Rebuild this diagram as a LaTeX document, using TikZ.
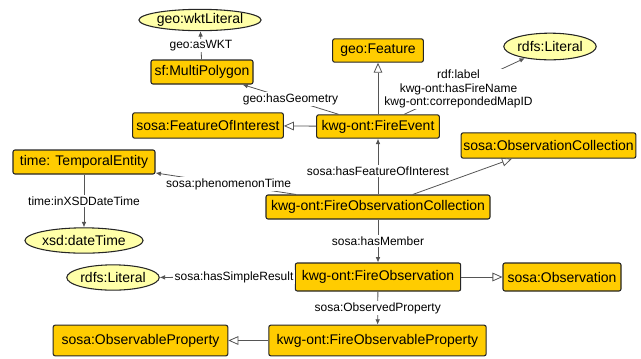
\documentclass[tikz,border=0pt]{standalone}
\usepackage{fontspec}
\setmainfont{Liberation Sans}
\usetikzlibrary{arrows.meta,shapes.geometric}
\definecolor{boxfill}{HTML}{FFCC00}
\definecolor{litfill}{HTML}{FFFFA8}
\definecolor{edgecol}{HTML}{555555}
\tikzset{
  cls/.style={draw=black!85, line width=0.8pt, fill=boxfill, rounded corners=1.5pt,
    inner xsep=1pt, inner ysep=1pt, font=\fontsize{10.5}{12}\selectfont},
  lit/.style={ellipse, draw=black!85, line width=0.8pt, fill=litfill, inner sep=0pt,
    font=\fontsize{10.5}{12}\selectfont},
  rel/.style={draw=edgecol, line width=0.6pt, -{Latex[length=4pt,width=3.5pt]}},
  isa/.style={draw=edgecol, line width=0.6pt, -{Triangle[open,length=7.5pt,width=6.5pt,fill=white]}},
  lab/.style={fill=white, inner sep=1pt, text=black, font=\fontsize{9}{10.5}\selectfont},
}
\begin{document}
\begin{tikzpicture}[x=0.75pt,y=-0.75pt]
\useasboundingbox (0,0) rectangle (641,358);
% nodes
\node[lit, minimum width=77pt, minimum height=16pt] (wkt) at (200,20) {geo:wktLiteral};
\node[cls, minimum width=76.5pt, minimum height=18pt] (mp) at (202,72) {sf:MultiPolygon};
\node[cls, minimum width=113pt, minimum height=19pt] (foi) at (208,125.5) {sosa:FeatureOfInterest};
\node[cls, minimum width=106.5pt, minimum height=18pt] (te) at (84,162) {time: TemporalEntity};
\node[cls, minimum width=68pt, minimum height=17.5pt] (gf) at (378,50.5) {geo:Feature};
\node[lit, minimum width=55pt, minimum height=20pt] (lit1) at (550,46.5) {rdfs:Literal};
\node[cls, minimum width=92pt, minimum height=17.5pt] (fe) at (378,126.5) {kwg-ont:FireEvent};
\node[cls, minimum width=131pt, minimum height=19pt] (oc) at (548.5,145.5) {sosa:ObservationCollection};
\node[cls, minimum width=168pt, minimum height=18pt] (foc) at (378,207) {kwg-ont:FireObservationCollection};
\node[lit, minimum width=70pt, minimum height=19pt] (dt) at (84,240.5) {xsd:dateTime};
\node[lit, minimum width=63pt, minimum height=19pt] (lit2) at (113,277.5) {rdfs:Literal};
\node[cls, minimum width=124pt, minimum height=21pt] (fo) at (378,277) {kwg-ont:FireObservation};
\node[cls, minimum width=88.5pt, minimum height=21pt] (obs) at (562,277) {sosa:Observation};
\node[cls, minimum width=131pt, minimum height=23pt] (op) at (140.5,340.5) {sosa:ObservableProperty};
\node[cls, minimum width=163pt, minimum height=23pt] (fop) at (377.5,340.5) {kwg-ont:FireObservableProperty};
% edges
\draw[rel] (mp) -- node[lab] {geo:asWKT} (wkt);
\draw[rel] (fe) -- node[lab] {geo:hasGeometry} (mp);
\draw[isa] (fe) -- (foi);
\draw[isa] (fe) -- (gf);
\draw[rel] (fe) -- node[lab, align=center, pos=0.45, font=\fontsize{9}{10}\selectfont] {rdf:label\\kwg-ont:hasFireName\\kwg-ont:correpondedMapID} (lit1);
\draw[rel] (foc) -- node[lab, pos=0.42] {sosa:hasFeatureOfInterest} (fe);
\draw[isa] (foc) -- (oc);
\draw[rel] (foc) -- node[lab, pos=0.48] {sosa:phenomenonTime} (te);
\draw[rel] (te) -- node[lab] {time:inXSDDateTime} (dt);
\draw[rel] (foc) -- node[lab] {sosa:hasMember} (fo);
\draw[rel] (fo) -- node[lab, pos=0.45] {sosa:hasSimpleResult} (lit2);
\draw[isa] (fo) -- (obs);
\draw[rel] (fo) -- node[lab] {sosa:ObservedProperty} (fop);
\draw[isa] (fop) -- (op);
\end{tikzpicture}
\end{document}
